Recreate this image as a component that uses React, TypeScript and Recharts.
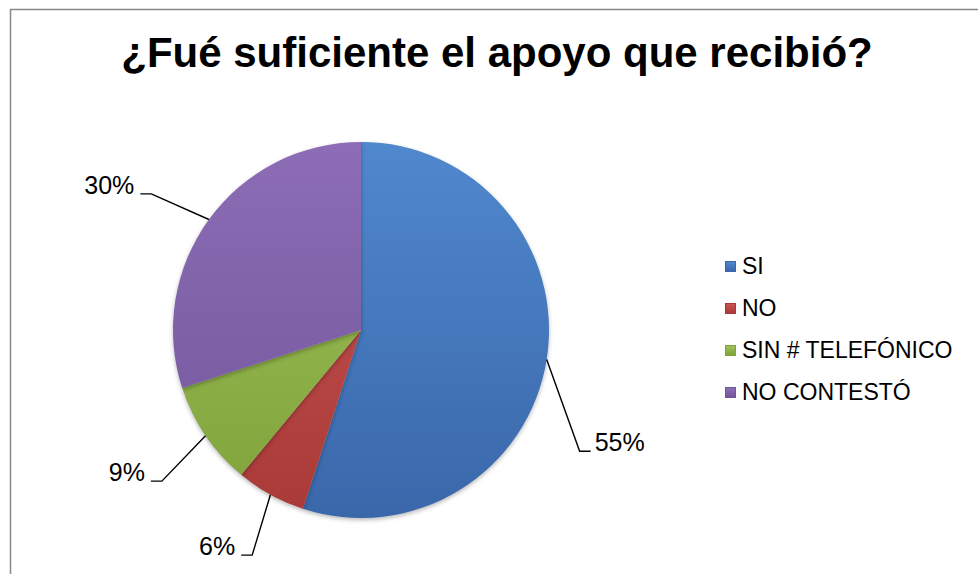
import { PieChart, Pie, Cell, Legend } from 'recharts'

const categories = ['SI', 'NO', 'SIN # TELEFÓNICO', 'NO CONTESTÓ']
const values = [55, 6, 9, 30]
const topColors = ['#5088CE', '#C85552', '#9FC25A', '#8C6DB6']
const bottomColors = ['#3A67AA', '#A93A38', '#7FA23A', '#71559A']
// nudge for where the label elbow sits, in degrees from the slice middle
const labelShift = [-20, 3, 3, 3]

const data = categories.map((name, i) => ({ name, value: values[i] }))

const W = 978
const H = 574
const CX = 361
const CY = 330
const R = 188
const FONT = '"Liberation Sans", Arial, sans-serif'
const RAD = Math.PI / 180

function renderLabel(p: any) {
  const { cx, cy, midAngle, outerRadius, percent, index } = p
  const sx = cx + outerRadius * Math.cos(-midAngle * RAD)
  const sy = cy + outerRadius * Math.sin(-midAngle * RAD)
  const a = (midAngle + labelShift[index]) * RAD
  const ex = cx + (outerRadius + 62) * Math.cos(-a)
  const ey = cy + (outerRadius + 62) * Math.sin(-a)
  const right = ex > cx
  const tx = ex + (right ? 11 : -11)
  return (
    <g key={`lbl-${index}`}>
      <polyline points={`${sx},${sy} ${ex},${ey} ${tx},${ey}`} fill="none" stroke="#000" strokeWidth={1.4} />
      <text x={tx + (right ? 4 : -6)} y={ey} textAnchor={right ? 'start' : 'end'} fontSize={25} fontFamily={FONT} fill="#000">
        {Math.round(percent * 100)}%
      </text>
    </g>
  )
}

function LegendBox({ payload }: any) {
  const items = [...(payload || [])].sort((a: any, b: any) => categories.indexOf(a.value) - categories.indexOf(b.value))
  return (
    <div style={{ fontFamily: FONT, fontSize: 23, color: '#000' }}>
      {items.map((e: any) => {
        const i = categories.indexOf(e.value)
        return (
          <div key={e.value} style={{ display: 'flex', alignItems: 'center', height: 42 }}>
            <div style={{
              width: 11, height: 11, marginRight: 6, boxSizing: 'border-box',
              background: `linear-gradient(${topColors[i]}, ${bottomColors[i]})`,
              border: `1px solid ${bottomColors[i]}`,
            }} />
            {e.value}
          </div>
        )
      })}
    </div>
  )
}

export default function App() {
  return (
    <div style={{ position: 'fixed', left: 0, top: 0, width: W, height: H, background: '#fff', overflow: 'hidden' }}>
      <style>{'.recharts-pie-sector path { filter: drop-shadow(0 2px 2px rgba(0,0,0,0.28)); }'}</style>
      <PieChart width={W} height={H} margin={{ top: 0, right: 0, bottom: 0, left: 0 }}>
        <defs>
          {categories.map((c, i) => (
            <linearGradient key={c} id={`g${i}`} gradientUnits="userSpaceOnUse" x1={0} y1={CY - R} x2={0} y2={CY + R}>
              <stop offset="0%" stopColor={topColors[i]} />
              <stop offset="100%" stopColor={bottomColors[i]} />
            </linearGradient>
          ))}
        </defs>
        <Pie
          data={data}
          dataKey="value"
          nameKey="name"
          cx={CX}
          cy={CY}
          outerRadius={R}
          startAngle={90}
          endAngle={-270}
          stroke="none"
          label={renderLabel}
          labelLine={false}
          isAnimationActive={false}
        >
          {data.map((d, i) => (
            <Cell key={d.name} fill={`url(#g${i})`} />
          ))}
        </Pie>
        <Legend
          layout="vertical"
          content={<LegendBox />}
          wrapperStyle={{ left: 725, top: 245, width: 260 }}
        />
      </PieChart>
      <svg width={W} height={H} style={{ position: 'absolute', left: 0, top: 0, pointerEvents: 'none' }}>
        <line x1={10.5} y1={9} x2={10.5} y2={H} stroke="#888" strokeWidth={1.5} />
        <line x1={10} y1={9.5} x2={W} y2={9.5} stroke="#888" strokeWidth={1.5} />
        <text x={497} y={67} textAnchor="middle" fontSize={42} fontWeight="bold" fontFamily={FONT} fill="#000">
          ¿Fué suficiente el apoyo que recibió?
        </text>
      </svg>
    </div>
  )
}
